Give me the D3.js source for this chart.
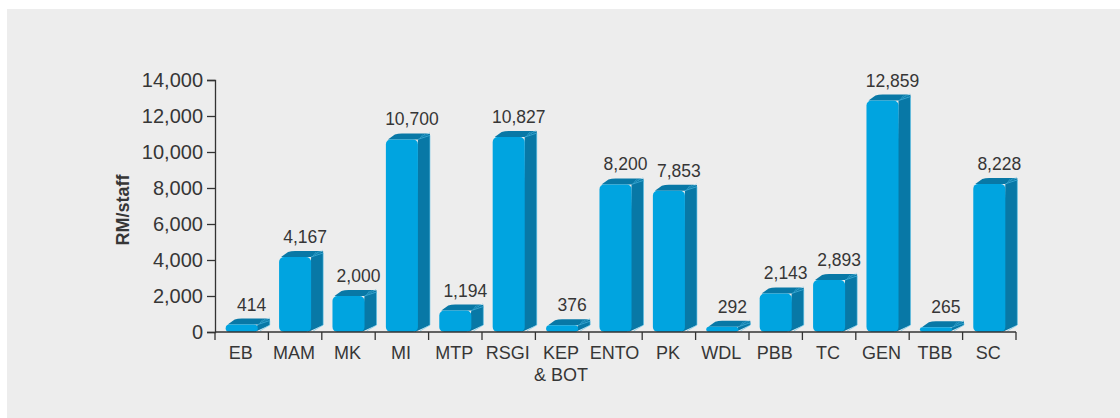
<!DOCTYPE html>
<html>
<head>
<meta charset="utf-8">
<script src="https://cdn.jsdelivr.net/npm/d3@7"></script>
<style>
  html, body { margin: 0; padding: 0; background: #fff; }
  svg { display: block; }
  text { font-family: "Liberation Sans", Arial, sans-serif; fill: #363636; }
</style>
</head>
<body>
<div id="chart"></div>
<script>
// categories and RM per staff values
var categories = ["EB", "MAM", "MK", "MI", "MTP", "RSGI", "KEP\n& BOT", "ENTO", "PK", "WDL", "PBB", "TC", "GEN", "TBB", "SC"];
var values = [414, 4167, 2000, 10700, 1194, 10827, 376, 8200, 7853, 292, 2143, 2893, 12859, 265, 8228];
var yTicks = [0, 2000, 4000, 6000, 8000, 10000, 12000, 14000];
var yTitle = "RM/staff";

var W = 1120, H = 418;
var plotLeft = 215, plotRight = 1016, plotTop = 80, plotBottom = 332;
var dx = 12, dy = 6; // fake 3d depth
var front = "#00a4e0", dark = "#0878a6", edge = "#56bfe8";

var svg = d3.select("#chart").append("svg")
  .attr("width", W).attr("height", H);

// grey panel
svg.append("rect")
  .attr("x", 7).attr("y", 9)
  .attr("width", W - 7).attr("height", H - 9)
  .attr("fill", "#ededed");

var x = d3.scaleBand()
  .domain(categories)
  .range([plotLeft, plotRight])
  .paddingInner(0.4)
  .paddingOuter(0.2);

var y = d3.scaleLinear()
  .domain([0, 14000])
  .range([plotBottom, plotTop]);

var data = categories.map(function(c, i){ return {cat: c, val: values[i]}; });

// bars
var bars = svg.append("g").selectAll("g")
  .data(data)
  .enter().append("g");

bars.each(function(d){
  var g = d3.select(this);
  var x0 = x(d.cat), x1 = x0 + x.bandwidth();
  var yt = y(d.val), yb = y(0);
  var h = yb - yt;
  var r = Math.min(5, h / 2);

  // side face
  g.append("path")
    .attr("d", "M" + x1 + "," + yt + "L" + (x1 + dx) + "," + (yt - dy) +
      "L" + (x1 + dx) + "," + (yb - dy - 1) + "L" + (x1 - 3) + "," + yb + "Z")
    .attr("fill", dark);

  // top face
  g.append("path")
    .attr("d", "M" + (x0 + 2) + "," + yt + "L" + (x0 + dx - 3) + "," + (yt - dy + 1) +
      "Q" + (x0 + dx) + "," + (yt - dy) + " " + (x0 + dx + 4) + "," + (yt - dy) +
      "L" + (x1 + dx - 4) + "," + (yt - dy) +
      "Q" + (x1 + dx) + "," + (yt - dy) + " " + (x1 + dx) + "," + (yt - dy + 3) +
      "L" + x1 + "," + yt + "Z")
    .attr("fill", dark);

  // little hatching at the top right corner
  for (var k = 0; k < 4; k++) {
    var hx = x1 + 2 + k * 2.2;
    g.append("line")
      .attr("x1", hx).attr("y1", yt - 1 - k * 1.1)
      .attr("x2", hx + 3).attr("y2", yt - dy + 1 - k * 0.6)
      .attr("stroke", edge).attr("stroke-width", 0.6).attr("opacity", 0.8);
  }

  // light edge on side
  g.append("path")
    .attr("d", "M" + x1 + "," + yt + "L" + (x1 + dx) + "," + (yt - dy + 2) +
      "L" + (x1 + dx) + "," + (yb - dy - 1) + "L" + (x1 + 2) + "," + (yb - 1))
    .attr("fill", "none").attr("stroke", edge).attr("stroke-width", 0.6);

  // front face
  g.append("rect")
    .attr("x", x0).attr("y", yt)
    .attr("width", x.bandwidth()).attr("height", h)
    .attr("rx", r).attr("ry", r)
    .attr("fill", front);
});

// value labels
svg.append("g").selectAll("text")
  .data(data)
  .enter().append("text")
  .attr("x", function(d){ return x(d.cat) + x.bandwidth() / 2 + 10; })
  .attr("y", function(d){ return y(d.val) - dy - 8; })
  .attr("text-anchor", "middle")
  .style("font-size", "17.5px")
  .text(function(d){ return d3.format(",")(d.val); });

// y axis
var yAxis = svg.append("g")
  .attr("transform", "translate(" + plotLeft + ",0)")
  .call(d3.axisLeft(y).tickValues(yTicks).tickSize(8).tickPadding(4).tickFormat(d3.format(",")));
yAxis.selectAll("text").style("font-size", "20px").attr("fill", "#363636");
yAxis.selectAll("line, path").attr("stroke", "#333").attr("stroke-width", 1.3);

// x axis: line, boundary ticks, labels
var xAxis = svg.append("g");
xAxis.append("line")
  .attr("x1", plotLeft).attr("x2", plotRight)
  .attr("y1", plotBottom).attr("y2", plotBottom)
  .attr("stroke", "#333").attr("stroke-width", 1.3);

var gap = (x.step() - x.bandwidth()) / 2;
var bounds = categories.map(function(c){ return x(c) - gap; });
bounds.push(plotRight);
xAxis.selectAll(".tk").data(bounds).enter().append("line")
  .attr("class", "tk")
  .attr("x1", function(d){ return d; }).attr("x2", function(d){ return d; })
  .attr("y1", plotBottom).attr("y2", plotBottom + 8)
  .attr("stroke", "#333").attr("stroke-width", 1.3);

var lab = xAxis.selectAll(".lab").data(categories).enter().append("text")
  .attr("class", "lab")
  .attr("text-anchor", "middle")
  .attr("y", plotBottom + 27)
  .style("font-size", "18px");
lab.each(function(c){
  var t = d3.select(this);
  c.split("\n").forEach(function(line, i){
    t.append("tspan")
      .attr("x", x(c) + x.bandwidth() / 2 - 1)
      .attr("dy", i ? 22 : 0)
      .text(line);
  });
});

// axis title
svg.append("text")
  .attr("transform", "translate(129,210) rotate(-90)")
  .attr("text-anchor", "middle")
  .style("font-size", "18px")
  .style("font-weight", "bold")
  .text(yTitle);
</script>
</body>
</html>
